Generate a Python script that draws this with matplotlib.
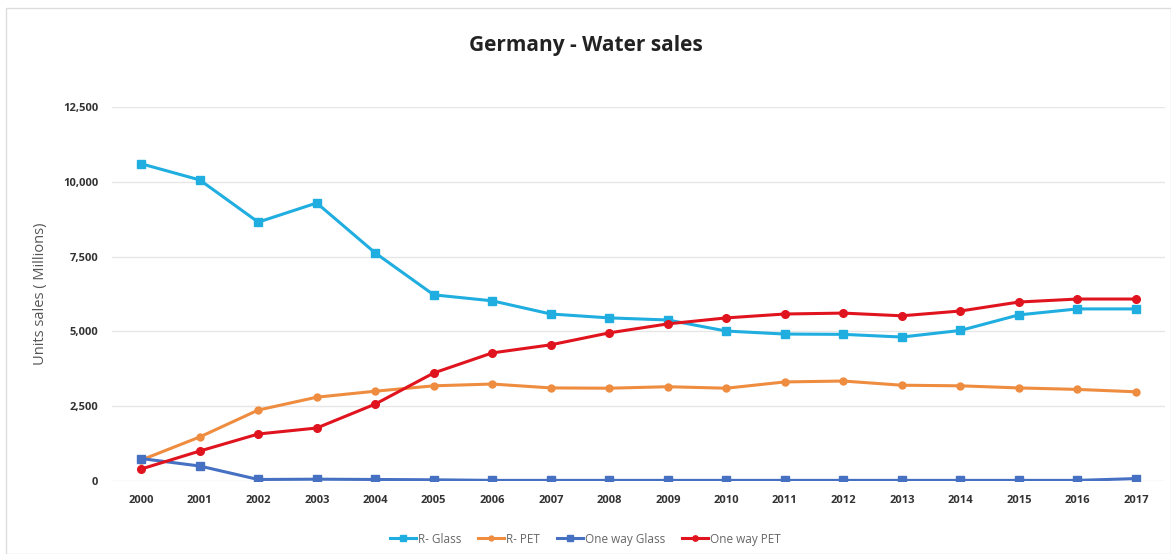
import numpy as np
import matplotlib
matplotlib.use("Agg")
import matplotlib.pyplot as plt
from matplotlib.patches import Rectangle
from matplotlib.ticker import FuncFormatter

years = [str(y) for y in range(2000, 2018)]
r_glass = [10600, 10060, 8650, 9290, 7620, 6220, 6020, 5580, 5450, 5380,
           5010, 4910, 4900, 4810, 5030, 5550, 5750, 5750]
r_pet = [700, 1470, 2370, 2800, 3000, 3180, 3240, 3110, 3100, 3150,
         3100, 3310, 3340, 3200, 3180, 3110, 3060, 2980]
oneway_glass = [750, 500, 50, 60, 50, 40, 20, 20, 20, 20,
                20, 20, 20, 20, 20, 20, 20, 80]
oneway_pet = [400, 1000, 1570, 1770, 2570, 3610, 4280, 4550, 4950, 5250,
              5450, 5580, 5610, 5520, 5680, 5980, 6080, 6080]

plt.rcParams['font.family'] = ['Open Sans', 'DejaVu Sans']

fig = plt.figure(figsize=(11.71, 5.54), dpi=100)
ax = fig.add_axes([0.0956, 0.1318, 0.8994, 0.6752])

x = np.arange(len(years))
ax.plot(x, r_glass, color='#1FAEDF', lw=2.2, marker='s', ms=5.5, label='R- Glass')
ax.plot(x, r_pet, color='#EE8C40', lw=2.2, marker='o', ms=5, label='R- PET')
ax.plot(x, oneway_glass, color='#4670C2', lw=2.2, marker='s', ms=5.5, label='One way Glass')
ax.plot(x, oneway_pet, color='#E0141E', lw=2.2, marker='o', ms=5.5, label='One way PET')

ax.set_xlim(-0.5, 17.5)
ax.set_ylim(0, 12500)
ax.set_yticks(np.arange(0, 12501, 2500))
ax.yaxis.set_major_formatter(FuncFormatter(lambda v, p: f'{int(v):,}'))
ax.set_xticks(x)
ax.set_xticklabels(years)
ax.tick_params(axis='both', length=0, labelsize=8, colors='#333333', pad=10)
for lbl in ax.get_xticklabels() + ax.get_yticklabels():
    lbl.set_fontweight('bold')
ax.grid(axis='y', color='#E6E6E6', lw=1)
ax.set_axisbelow(True)
for s in ax.spines.values():
    s.set_visible(False)

ax.set_ylabel('Units sales ( Millions)', fontsize=10.5, color='#555555', labelpad=11)

fig.text(0.5, 0.918, 'Germany - Water sales', ha='center', va='center',
         fontsize=15, fontweight='bold', color='#222222')

fig.legend(loc='center', bbox_to_anchor=(0.5, 0.027), ncol=4, frameon=False,
           fontsize=8.5, labelcolor='#666666', handlelength=2.2, columnspacing=1.4,
           handletextpad=0.2, markerscale=0.7)

fig.patches.append(Rectangle((0.005, 0.0), 0.995, 0.985, transform=fig.transFigure,
                             fill=False, edgecolor='#DDDDDD', lw=1))

fig.savefig('out.png', dpi=100)
